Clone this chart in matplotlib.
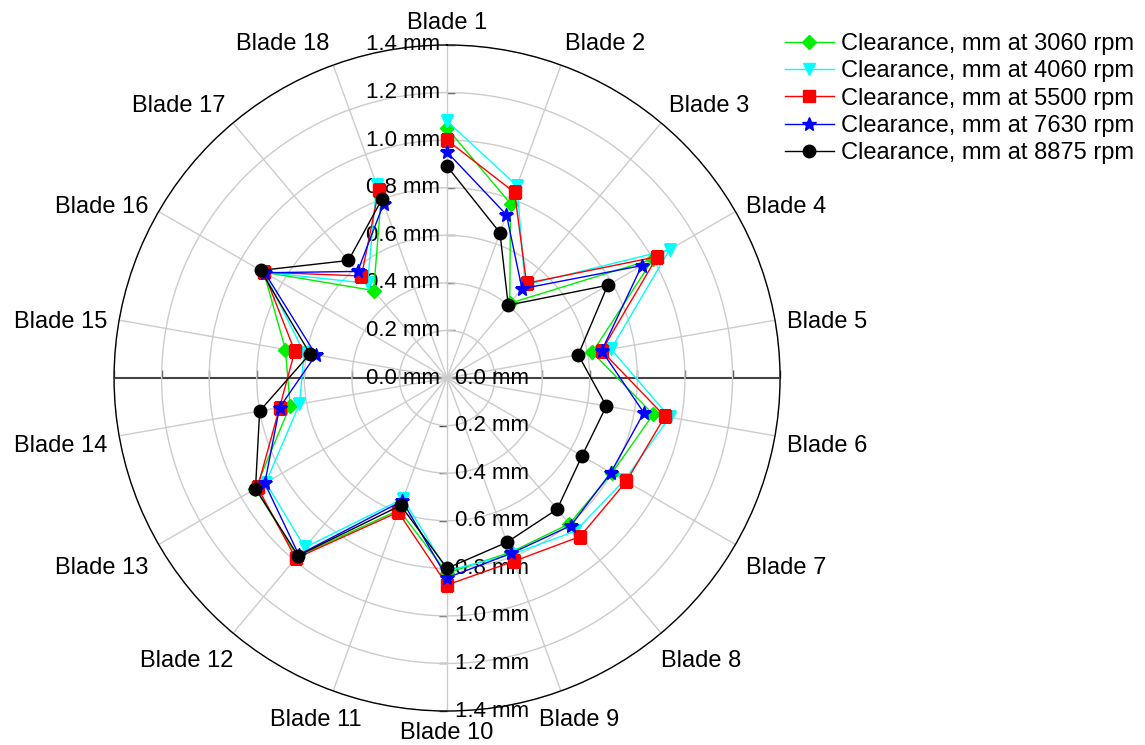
import numpy as np
import matplotlib.pyplot as plt
from matplotlib.transforms import offset_copy

plt.rcParams['font.family'] = ['Liberation Sans', 'DejaVu Sans']

blades = [f"Blade {i}" for i in range(1, 19)]
rpm = [3060, 4060, 5500, 7630, 8875]

# clearance in mm, blade 1 .. blade 18
clear_3060 = [1.05, 0.78, 0.41, 1.00, 0.62, 0.88, 0.80, 0.80, 0.78, 0.82, 0.59, 0.98,
              0.93, 0.67, 0.69, 0.89, 0.48, 0.81]
clear_4060 = [1.08, 0.86, 0.51, 1.08, 0.70, 0.95, 0.86, 0.84, 0.79, 0.81, 0.54, 0.93,
              0.88, 0.63, 0.61, 0.89, 0.52, 0.865]
clear_5500 = [1.00, 0.83, 0.52, 1.02, 0.66, 0.93, 0.87, 0.87, 0.82, 0.87, 0.60, 0.99,
              0.92, 0.715, 0.65, 0.89, 0.56, 0.84]
clear_7630 = [0.95, 0.73, 0.49, 0.945, 0.66, 0.84, 0.795, 0.81, 0.785, 0.84, 0.55, 0.97,
              0.885, 0.715, 0.56, 0.885, 0.585, 0.78]
clear_8875 = [0.89, 0.65, 0.40, 0.78, 0.56, 0.68, 0.655, 0.72, 0.735, 0.80, 0.57, 0.975,
              0.93, 0.80, 0.585, 0.905, 0.645, 0.80]

r_ticks = [0.0, 0.2, 0.4, 0.6, 0.8, 1.0, 1.2, 1.4]

series = [clear_3060, clear_4060, clear_5500, clear_7630, clear_8875]
colors = ['#00ee00', '#00ffff', '#ff0000', '#0000ff', '#000000']
markers = ['D', 'v', 's', '*', 'o']
msizes = [7, 9, 8, 10, 9]

theta = np.deg2rad(np.arange(len(blades)) * 20)

fig = plt.figure(figsize=(11.45, 7.45), dpi=100)
ax = fig.add_axes([0.0996, 0.0456, 0.5817, 0.894], projection='polar')
ax.set_theta_zero_location('N')
ax.set_theta_direction(-1)
ax.set_ylim(0, 1.4)

ax.set_thetagrids(np.degrees(theta), [''] * len(blades))
ax.set_rgrids(r_ticks, labels=[''] * len(r_ticks))
ax.grid(True, color='#cccccc', lw=1)
ax.spines['polar'].set_color('black')
ax.spines['polar'].set_linewidth(1)
ax.tick_params(axis='x', direction='out', length=5, width=1, colors='black')

# blade labels outside the circle
pad, hw, hh = 12, 40, 10
for t, name in zip(theta, blades):
    s, c = np.sin(t), np.cos(t)
    dy = c * (pad + hh)
    if abs(s) < 0.1:
        ha, dx = 'center', 0
    else:
        if c < 0.7:
            dy -= 6
        if c < -0.3:
            dy -= 8 * abs(s)
        if c < -0.9:
            ha, dx = 'center', s * (pad + hw)
        else:
            ha, dx = ('left' if s > 0 else 'right'), s * pad
            if c < -0.7:
                dx -= np.sign(s) * 8
    tr = offset_copy(ax.transData, fig=fig, x=dx, y=dy, units='dots')
    ax.text(t, r_ticks[-1], name, transform=tr, ha=ha, va='center',
            fontsize=17, clip_on=False)

# horizontal axis line with ticks
for side in [np.pi / 2, 3 * np.pi / 2]:
    ax.plot([side, side], [0, r_ticks[-1]], color='#444444', lw=1.5, zorder=1)
    ax.plot(np.full(len(r_ticks) - 1, side), r_ticks[1:], ls='none', marker=2,
            ms=6, mew=1, color='#444444', clip_on=False, zorder=1)

# vertical axis ticks
ax.plot(np.zeros(len(r_ticks) - 1), r_ticks[1:], ls='none', marker=1,
        ms=6, mew=1, color='#444444', clip_on=False, zorder=1)
ax.plot(np.full(len(r_ticks) - 1, np.pi), r_ticks[1:], ls='none', marker=0,
        ms=6, mew=1, color='#444444', clip_on=False, zorder=1)

# radial labels, up (left of axis) and down (right of axis)
up_tr = offset_copy(ax.transData, fig=fig, x=-7, y=0, units='dots')
down_tr = offset_copy(ax.transData, fig=fig, x=8, y=0, units='dots')
for r in r_ticks:
    ax.text(0, r, f"{r:.1f} mm", transform=up_tr, ha='right', va='center', fontsize=16)
    ax.text(np.pi, r, f"{r:.1f} mm", transform=down_tr, ha='left', va='center', fontsize=16)

for vals, c, m, ms, n in zip(series, colors, markers, msizes, rpm):
    ax.plot(theta, vals, color=c, marker=m, ms=ms, lw=1, zorder=3,
            label=f"Clearance, mm at {n} rpm")

fig.legend(loc='upper left', bbox_to_anchor=(0.677, 0.968), frameon=False, fontsize=17,
           labelspacing=0.22, handlelength=2.1, handletextpad=0.3, borderaxespad=0)

fig.savefig('out.png', dpi=100)
